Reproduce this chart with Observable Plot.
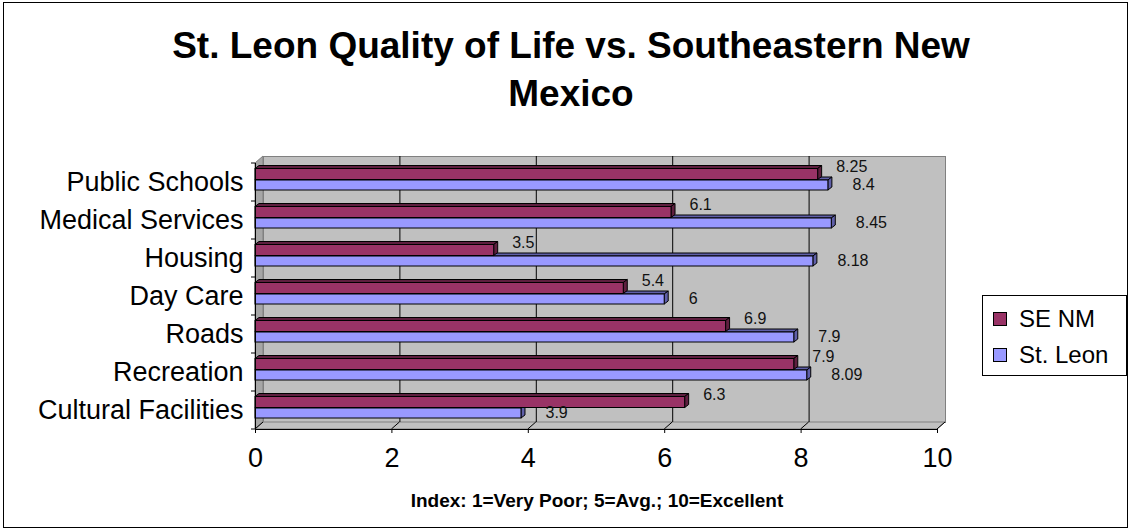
<!DOCTYPE html>
<html>
<head>
<meta charset="utf-8">
<script src="https://cdn.jsdelivr.net/npm/d3@7"></script>
<script src="https://cdn.jsdelivr.net/npm/@observablehq/plot@0.6"></script>
<style>
  html, body { margin: 0; padding: 0; background: #fff; }
  #chart { position: relative; width: 1130px; height: 531px; font-family: Arial, "Liberation Sans", sans-serif; overflow: hidden; }
  #border { position: absolute; left: 3px; top: 2px; width: 1123px; height: 524px; border: 1px solid #000; box-sizing: content-box; pointer-events: none; }
  #title { position: absolute; left: 6px; top: 22px; width: 1130px; text-align: center; font-weight: bold; font-size: 37px; line-height: 48px; color: #000; }
  #caption { position: absolute; left: 0; width: 1194px; top: 490px; text-align: center; font-weight: bold; font-size: 19px; line-height: 22px; color: #000; }
  #legend { position: absolute; left: 982px; top: 295px; width: 145px; height: 81px; border: 1px solid #000; background: #fff; box-sizing: border-box; }
  .item { position: absolute; left: 10px; height: 28px; display: flex; align-items: center; font-size: 24px; color: #000; white-space: nowrap; }
  .sw { width: 12px; height: 12px; border: 1px solid #000; margin-right: 12px; }
  #plot { position: absolute; left: 0; top: 0; }
</style>
</head>
<body>
<div id="chart">
  <div id="plot"></div>
  <div id="title">St. Leon Quality of Life vs. Southeastern New<br>Mexico</div>
  <div id="caption">Index: 1=Very Poor; 5=Avg.; 10=Excellent</div>
  <div id="legend"></div>
  <div id="border"></div>
</div>
<script>
// ---- data ----
const categories = ["Public Schools", "Medical Services", "Housing", "Day Care", "Roads", "Recreation", "Cultural Facilities"];
const seNM = [8.25, 6.1, 3.5, 5.4, 6.9, 7.9, 6.3];
const stLeon = [8.4, 8.45, 8.18, 6, 7.9, 8.09, 3.9];
const xTicks = [0, 2, 4, 6, 8, 10];
const seriesNames = ["SE NM", "St. Leon"];
const seriesColors = ["#993366", "#9999FF"];
const faceColors = ["#5e1f3f", "#5f5fa8"];

// ---- styles ----
const WALL = {dx: 8, dy: 7};      // depth of back wall
const BAR = {dx: 4, dy: 3};       // depth of bars
const inset = {
  "SE NM": {top: 5.5, bottom: 21.5},
  "St. Leon": {top: 17, bottom: 11}
};

const rows = (name, vals) => vals.map((v, i) => ({series: name, category: categories[i], value: v}));
const seRows = rows(seriesNames[0], seNM);
const slRows = rows(seriesNames[1], stLeon);

function faces(data, color) {
  return (index, scales, values, dim) => {
    const {x, y} = scales;
    const bw = y.bandwidth ? y.bandwidth() : (dim.height - dim.marginTop - dim.marginBottom) / categories.length;
    const g = d3.create("svg:g");
    for (const d of data) {
      const ins = inset[d.series];
      const x0 = x(0), x1 = x(d.value);
      const yt = y(d.category) + ins.top, yb = y(d.category) + bw - ins.bottom;
      g.append("path")
        .attr("d", `M${x0},${yt}L${x0 + BAR.dx},${yt - BAR.dy}L${x1 + BAR.dx},${yt - BAR.dy}L${x1},${yt}Z`)
        .attr("fill", color).attr("stroke", "#000").attr("stroke-width", 1).attr("stroke-linejoin", "round");
      g.append("path")
        .attr("d", `M${x1},${yt}L${x1 + BAR.dx},${yt - BAR.dy}L${x1 + BAR.dx},${yb - BAR.dy}L${x1},${yb}Z`)
        .attr("fill", color).attr("stroke", "#000").attr("stroke-width", 1).attr("stroke-linejoin", "round");
    }
    return g.node();
  };
}

function room(index, scales, values, dim) {
  const {x, y} = scales;
  const g = d3.create("svg:g");
  const x0 = x(0), x1 = x(10);
  const yTop = dim.marginTop, yBot = dim.height - dim.marginBottom;
  // left side wall
  g.append("path")
    .attr("d", `M${x0},${yTop}L${x0 + WALL.dx},${yTop - WALL.dy}L${x0 + WALL.dx},${yBot - WALL.dy}L${x0},${yBot}Z`)
    .attr("fill", "#a6a6a6").attr("stroke", "#808080");
  // floor
  g.append("path")
    .attr("d", `M${x0},${yBot}L${x0 + WALL.dx},${yBot - WALL.dy}L${x1 + WALL.dx},${yBot - WALL.dy}L${x1},${yBot}Z`)
    .attr("fill", "#c0c0c0").attr("stroke", "#808080");
  // floor tick diagonals
  for (const t of xTicks) {
    g.append("line")
      .attr("x1", x(t)).attr("y1", yBot).attr("x2", x(t) + WALL.dx).attr("y2", yBot - WALL.dy)
      .attr("stroke", "#000");
  }
  // left-axis ticks at category boundaries
  const bounds = categories.map(c => y(c)).concat([yBot]);
  for (const b of bounds) {
    g.append("line").attr("x1", x0 - 4).attr("x2", x0).attr("y1", b).attr("y2", b).attr("stroke", "#000");
  }
  return g.node();
}

const fmt = v => String(v);

const chart = Plot.plot({
  width: 1130,
  height: 531,
  marginLeft: 255,
  marginRight: 193,
  marginTop: 163,
  marginBottom: 102,
  style: {fontFamily: 'Arial, "Liberation Sans", sans-serif', background: "transparent", color: "#000", overflow: "visible"},
  x: {domain: [0, 10]},
  y: {domain: categories, padding: 0},
  marks: [
    Plot.frame({fill: "#c0c0c0", stroke: "#808080", dx: WALL.dx, dy: -WALL.dy}),
    room,
    Plot.ruleX(xTicks.filter(t => t > 0 && t < 10), {stroke: "#000", dx: WALL.dx, dy: -WALL.dy}),
    // St. Leon (behind)
    faces(slRows, faceColors[1]),
    Plot.barX(slRows, {x1: 0, x2: "value", y: "category", fill: seriesColors[1], stroke: "#000", strokeWidth: 1,
      insetTop: inset["St. Leon"].top, insetBottom: inset["St. Leon"].bottom}),
    // SE NM (front)
    faces(seRows, faceColors[0]),
    Plot.barX(seRows, {x1: 0, x2: "value", y: "category", fill: seriesColors[0], stroke: "#000", strokeWidth: 1,
      insetTop: inset["SE NM"].top, insetBottom: inset["SE NM"].bottom}),
    // data labels
    Plot.text(seRows, {x: "value", y: "category", text: d => fmt(d.value), textAnchor: "start", dx: 18, dy: -16, fontSize: 16, fill: "#111"}),
    Plot.text(slRows, {x: "value", y: "category", text: d => fmt(d.value), textAnchor: "start", dx: 24, dy: 2, fontSize: 16, fill: "#111"}),
    // axes
    Plot.frame({anchor: "left", stroke: "#000"}),
    Plot.frame({anchor: "bottom", stroke: "#000"}),
    Plot.axisX({ticks: xTicks, tickSize: 4, tickPadding: 14, fontSize: 27, label: null}),
    Plot.axisY({tickSize: 0, tickPadding: 12, fontSize: 27, label: null})
  ]
});
document.getElementById("plot").appendChild(chart);

// legend
const legend = document.getElementById("legend");
const legendTops = [9, 45];
seriesNames.forEach((name, i) => {
  const item = document.createElement("div");
  item.className = "item";
  item.style.top = legendTops[i] + "px";
  const sw = document.createElement("span");
  sw.className = "sw";
  sw.style.background = seriesColors[i];
  const label = document.createElement("span");
  label.textContent = name;
  item.appendChild(sw);
  item.appendChild(label);
  legend.appendChild(item);
});
</script>
</body>
</html>
